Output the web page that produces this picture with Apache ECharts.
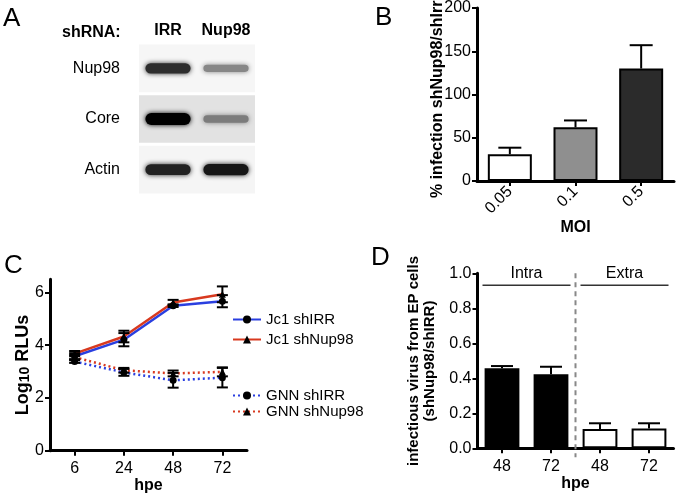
<!DOCTYPE html>
<html>
<head>
<meta charset="utf-8">
<script src="https://cdn.jsdelivr.net/npm/echarts@6/dist/echarts.min.js"></script>
<style>
  html, body { margin: 0; padding: 0; background: #fff; }
  #chart { width: 677px; height: 495px; }
</style>
</head>
<body>
<div id="chart"></div>
<script>
// panel A: western blot, relative band signal per protein row / shRNA lane
const blotLanes = ['IRR', 'Nup98'];
const blotProteins = ['Nup98', 'Core', 'Actin'];
const blotSignal = [[0.8, 0.4], [1.0, 0.45], [0.85, 0.9]];

// panel B
const moiLabels = ['0.05', '0.1', '0.5'];
const moiInfection = [31, 62, 130];
const moiSem = [7.5, 8, 27];

// panel C
const hpeLabels = ['6', '24', '48', '72'];
const jc1IRR = [3.58, 4.21, 5.50, 5.67];
const jc1IRRsd = [0.12, 0.25, 0.05, 0.23];
const jc1Nup98 = [3.68, 4.33, 5.62, 5.93];
const jc1Nup98sd = [0.1, 0.22, 0.1, 0.3];
const gnnIRR = [3.38, 2.97, 2.67, 2.77];
const gnnIRRsd = [0.05, 0.13, 0.28, 0.37];
const gnnNup98 = [3.55, 3.05, 2.93, 2.99];
const gnnNup98sd = [0.08, 0.09, 0.11, 0.17];

// panel D
const epLabels = ['48', '72', '48', '72'];
const epRatio = [0.457, 0.423, 0.11, 0.113];
const epSem = [0.013, 0.043, 0.033, 0.03];
const epGroupNames = ['Intra', 'Extra'];
const epGroupSpan = [[0, 1], [2, 3]];

const FONT = "'Liberation Sans', Arial, sans-serif";
const BLUE = '#2a3fe0';
const RED = '#d8391f';

const chart = echarts.init(document.getElementById('chart'));

function errorBars(capW, both) {
  return function (params, api) {
    const x = api.value(0);
    const lo = api.coord([x, api.value(1)]);
    const hi = api.coord([x, api.value(2)]);
    const st = { stroke: '#000', lineWidth: 2 };
    const children = [
      { type: 'line', shape: { x1: lo[0], y1: lo[1], x2: hi[0], y2: hi[1] }, style: st },
      { type: 'line', shape: { x1: hi[0] - capW / 2, y1: hi[1], x2: hi[0] + capW / 2, y2: hi[1] }, style: st }
    ];
    if (both) {
      children.push({ type: 'line', shape: { x1: lo[0] - capW / 2, y1: lo[1], x2: lo[0] + capW / 2, y2: lo[1] }, style: st });
    }
    return { type: 'group', children };
  };
}

function errData(mean, sd, both) {
  return mean.map((m, i) => [i, both ? m - sd[i] : m, m + sd[i]]);
}

const rowBg = ['#f6f6f6', '#e2e2e2', '#f5f5f5'];

function blotItem(params, api) {
  const c = api.value(0), r = api.value(1), v = api.value(2);
  const p = api.coord([c, r]);
  const size = api.size([1, 1]);
  const g = Math.round(225 * (1 - v));
  const col = 'rgb(' + g + ',' + g + ',' + g + ')';
  const bw = size[0] * 0.78;
  const bh = 4 + 8 * v;
  return {
    type: 'group',
    children: [
      { type: 'rect', shape: { x: p[0] - size[0] / 2, y: p[1] - size[1] / 2 + 1.5, width: size[0], height: size[1] - 3 },
        style: { fill: rowBg[r] } },
      { type: 'rect', shape: { x: p[0] - bw / 2, y: p[1] - bh / 2, width: bw, height: bh, r: bh / 2 },
        style: { fill: col, shadowBlur: 5, shadowColor: col } }
    ]
  };
}

function groupItem(params, api) {
  const a = api.coord([api.value(0), 1]);
  const b = api.coord([api.value(1), 1]);
  const zero = api.coord([api.value(0), 0]);
  const band = api.size([1, 0])[0];
  const x1 = a[0] - band / 2 + 5, x2 = b[0] + band / 2 - 5;
  const children = [
    { type: 'line', shape: { x1: x1, y1: a[1] + 12, x2: x2, y2: a[1] + 12 }, style: { stroke: '#333', lineWidth: 1.5 } },
    { type: 'text', x: (a[0] + b[0]) / 2, y: a[1],
      style: { text: epGroupNames[params.dataIndex], fill: '#000', font: '16px ' + FONT, align: 'center', verticalAlign: 'middle' } }
  ];
  if (params.dataIndex > 0) {
    const dx = a[0] - band / 2;
    children.push({ type: 'line', shape: { x1: dx, y1: a[1], x2: dx, y2: zero[1] + 9 },
      style: { stroke: '#888', lineWidth: 2, lineDash: [5, 4] } });
  }
  return { type: 'group', children };
}

const axisLineStyle = { lineStyle: { color: '#000', width: 3 } };
const tickStyle = { show: true, inside: false, length: 5, lineStyle: { color: '#000', width: 2 } };
const labelStyle = { color: '#000', fontSize: 16, fontFamily: FONT };
const legendText = { color: '#000', fontSize: 15, fontFamily: FONT };

chart.setOption({
  animation: false,
  textStyle: { fontFamily: FONT },
  grid: [
    { left: 139, top: 43, width: 116, height: 152 },
    { left: 477, top: 8, width: 197, height: 173 },
    { left: 50, top: 279.3, width: 197, height: 171.4 },
    { left: 477.5, top: 273.3, width: 196, height: 175 }
  ],
  xAxis: [
    { gridIndex: 0, type: 'category', data: blotLanes, position: 'top',
      axisLine: { show: false }, axisTick: { show: false },
      axisLabel: { interval: 0, hideOverlap: false, color: '#000', fontSize: 16, fontWeight: 'bold', fontFamily: FONT, margin: 4 } },
    { gridIndex: 1, type: 'category', data: moiLabels,
      axisLine: axisLineStyle, axisTick: Object.assign({ alignWithLabel: true }, tickStyle),
      axisLabel: Object.assign({ rotate: 45, margin: 8 }, labelStyle),
      name: 'MOI', nameLocation: 'middle', nameGap: 38,
      nameTextStyle: { color: '#000', fontSize: 16, fontWeight: 'bold', fontFamily: FONT } },
    { gridIndex: 2, type: 'category', data: hpeLabels,
      axisLine: axisLineStyle, axisTick: Object.assign({ alignWithLabel: true }, tickStyle),
      axisLabel: Object.assign({ margin: 10 }, labelStyle),
      name: 'hpe', nameLocation: 'middle', nameGap: 27,
      nameTextStyle: { color: '#000', fontSize: 16, fontWeight: 'bold', fontFamily: FONT } },
    { gridIndex: 3, type: 'category', data: epLabels,
      axisLine: axisLineStyle, axisTick: Object.assign({ alignWithLabel: true }, tickStyle),
      axisLabel: Object.assign({ margin: 10 }, labelStyle),
      name: 'hpe', nameLocation: 'middle', nameGap: 23,
      nameTextStyle: { color: '#000', fontSize: 16, fontWeight: 'bold', fontFamily: FONT } }
  ],
  yAxis: [
    { gridIndex: 0, type: 'category', data: blotProteins, inverse: true,
      axisLine: { show: false }, axisTick: { show: false },
      axisLabel: { interval: 0, color: '#000', fontSize: 16, fontFamily: FONT, margin: 19 } },
    { gridIndex: 1, type: 'value', min: 0, max: 200, interval: 50, splitLine: { show: false },
      axisLine: Object.assign({ show: true }, axisLineStyle), axisTick: tickStyle,
      axisLabel: Object.assign({ margin: 6 }, labelStyle) },
    { gridIndex: 2, type: 'value', min: 0, max: 6.5, splitLine: { show: false },
      axisLine: Object.assign({ show: true }, axisLineStyle),
      axisTick: Object.assign({ customValues: [0, 2, 4, 6] }, tickStyle),
      axisLabel: Object.assign({ margin: 6, customValues: [0, 2, 4, 6] }, labelStyle) },
    { gridIndex: 3, type: 'value', min: 0, max: 1, interval: 0.2, splitLine: { show: false },
      axisLine: Object.assign({ show: true }, axisLineStyle), axisTick: tickStyle,
      axisLabel: Object.assign({ margin: 6, formatter: v => v.toFixed(1) }, labelStyle) }
  ],
  legend: [
    { data: ['Jc1 shIRR', 'Jc1 shNup98'], orient: 'vertical', left: 227, top: 307,
      itemWidth: 28, itemHeight: 10, itemGap: 5, textStyle: legendText },
    { data: ['GNN shIRR', 'GNN shNup98'], orient: 'vertical', left: 227, top: 383,
      itemWidth: 28, itemHeight: 10, itemGap: 1, textStyle: legendText }
  ],
  graphic: [
    { type: 'text', left: 3, top: 6, style: { text: 'A', font: '26px ' + FONT, fill: '#000' } },
    { type: 'text', left: 375, top: 5, style: { text: 'B', font: '26px ' + FONT, fill: '#000' } },
    { type: 'text', left: 4, top: 253, style: { text: 'C', font: '26px ' + FONT, fill: '#000' } },
    { type: 'text', left: 371, top: 245, style: { text: 'D', font: '26px ' + FONT, fill: '#000' } },
    { type: 'text', left: 62, top: 25, style: { text: 'shRNA:', font: 'bold 16px ' + FONT, fill: '#000' } },
    { type: 'text', x: 438, y: 198, rotation: Math.PI / 2,
      style: { text: '% infection shNup98/shIrr', font: 'bold 16px ' + FONT, fill: '#000', align: 'left', verticalAlign: 'middle' } },
    { type: 'text', x: 422, y: 361, rotation: Math.PI / 2,
      style: { text: 'infectious virus from EP cells\n(shNup98/shIRR)', font: 'bold 15px ' + FONT, lineHeight: 16,
        fill: '#000', align: 'center', verticalAlign: 'middle' } },
    { type: 'text', x: 22, y: 365, rotation: Math.PI / 2,
      style: { text: '{b|Log}{s|10}{b| RLUs}', fill: '#000', align: 'center', verticalAlign: 'middle',
        rich: {
          b: { font: 'bold 18px ' + FONT, fill: '#000', verticalAlign: 'bottom', lineHeight: 20 },
          s: { font: 'bold 14px ' + FONT, fill: '#000', verticalAlign: 'bottom', lineHeight: 14 }
        } } }
  ],
  series: [
    { type: 'custom', xAxisIndex: 0, yAxisIndex: 0, renderItem: blotItem,
      data: blotSignal.flatMap((row, r) => row.map((v, c) => [c, r, v])) },

    { type: 'bar', xAxisIndex: 1, yAxisIndex: 1, barWidth: '67%',
      data: moiInfection.map((v, i) => ({ value: v,
        itemStyle: { color: ['#ffffff', '#8f8f8f', '#2b2b2b'][i], borderColor: '#000', borderWidth: 2 } })) },
    { type: 'custom', xAxisIndex: 1, yAxisIndex: 1, z: 3, renderItem: errorBars(23, false),
      encode: { x: 0, y: [1, 2] }, data: errData(moiInfection, moiSem, false) },

    { name: 'Jc1 shIRR', type: 'line', xAxisIndex: 2, yAxisIndex: 2, data: jc1IRR,
      itemStyle: { color: '#000' }, symbol: 'circle', symbolSize: 7, lineStyle: { color: BLUE, width: 2.5 } },
    { name: 'Jc1 shNup98', type: 'line', xAxisIndex: 2, yAxisIndex: 2, data: jc1Nup98,
      itemStyle: { color: '#000' }, symbol: 'triangle', symbolSize: 7, lineStyle: { color: RED, width: 2.5 } },
    { name: 'GNN shIRR', type: 'line', xAxisIndex: 2, yAxisIndex: 2, data: gnnIRR,
      itemStyle: { color: '#000' }, symbol: 'circle', symbolSize: 7, lineStyle: { color: BLUE, width: 2.5, type: [2, 3] } },
    { name: 'GNN shNup98', type: 'line', xAxisIndex: 2, yAxisIndex: 2, data: gnnNup98,
      itemStyle: { color: '#000' }, symbol: 'triangle', symbolSize: 7, lineStyle: { color: RED, width: 2.5, type: [2, 3] } },
    { type: 'custom', xAxisIndex: 2, yAxisIndex: 2, z: 4, renderItem: errorBars(11, true),
      encode: { x: 0, y: [1, 2] }, data: errData(jc1IRR, jc1IRRsd, true) },
    { type: 'custom', xAxisIndex: 2, yAxisIndex: 2, z: 4, renderItem: errorBars(11, true),
      encode: { x: 0, y: [1, 2] }, data: errData(jc1Nup98, jc1Nup98sd, true) },
    { type: 'custom', xAxisIndex: 2, yAxisIndex: 2, z: 4, renderItem: errorBars(11, true),
      encode: { x: 0, y: [1, 2] }, data: errData(gnnIRR, gnnIRRsd, true) },
    { type: 'custom', xAxisIndex: 2, yAxisIndex: 2, z: 4, renderItem: errorBars(11, true),
      encode: { x: 0, y: [1, 2] }, data: errData(gnnNup98, gnnNup98sd, true) },

    { type: 'bar', xAxisIndex: 3, yAxisIndex: 3, barWidth: '71%',
      data: epRatio.map((v, i) => ({ value: v,
        itemStyle: { color: i < 2 ? '#000' : '#fff', borderColor: '#000', borderWidth: 2 } })) },
    { type: 'custom', xAxisIndex: 3, yAxisIndex: 3, z: 3, renderItem: errorBars(22, false),
      encode: { x: 0, y: [1, 2] }, data: errData(epRatio, epSem, false) },
    { type: 'custom', xAxisIndex: 3, yAxisIndex: 3, z: 3, renderItem: groupItem,
      encode: { x: [0, 1] }, data: epGroupSpan }
  ]
});
</script>
</body>
</html>
